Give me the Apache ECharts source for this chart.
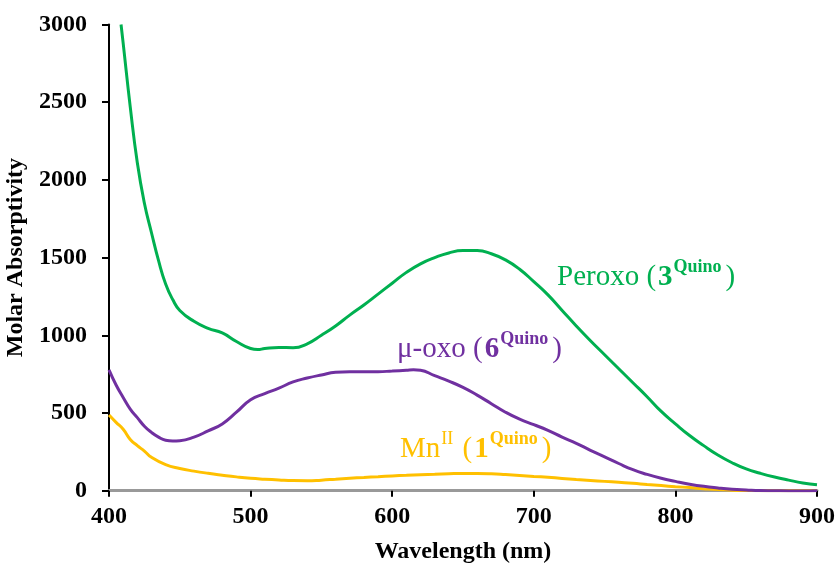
<!DOCTYPE html>
<html>
<head>
<meta charset="utf-8">
<script src="https://cdn.jsdelivr.net/npm/echarts@6/dist/echarts.min.js"></script>
<style>
html,body{margin:0;padding:0;background:#fff;}
#chart{width:839px;height:564px;}
</style>
</head>
<body>
<div id="chart"></div>
<script>
// Wavelength (nm) grids and molar absorptivity values
const peroxoWl = [408.5,410,415,420,425,430,435,440,445,450,460,470,480,490,500,505,510,520,530,540,550,560,570,580,590,600,610,620,630,640,650,660,670,680,690,700,710,720,730,740,750,760,770,780,790,800,810,820,830,840,850,860,870,880,890,900];
const peroxoVal = [3000,2880,2470,2110,1850,1660,1480,1330,1230,1160,1090,1045,1015,960,915,908,915,922,920,945,1000,1060,1130,1195,1265,1335,1405,1460,1500,1530,1545,1545,1525,1485,1425,1345,1260,1160,1060,965,875,785,695,605,510,430,355,290,230,180,140,112,88,68,50,38];

const muoxoWl = [400,405,410,415,420,425,430,435,440,445,450,460,470,480,490,500,510,520,530,540,550,560,570,580,590,600,610,615,620,630,640,650,660,670,680,690,700,710,720,730,740,750,760,770,780,790,800,810,820,830,840,850,860,870,880,890,900];
const muoxoVal = [777,680,600,525,470,415,375,345,325,320,322,345,385,430,505,585,625,660,700,725,745,762,766,766,766,770,775,778,775,740,705,665,615,560,505,460,425,388,345,305,260,218,175,135,105,80,60,42,28,18,10,5,1,0,-2,-2,0];

const mnWl = [400,405,410,415,420,425,430,440,450,460,470,480,490,500,510,520,530,540,550,560,570,580,590,600,610,620,630,640,650,660,670,680,690,700,710,720,730,740,750,760,770,780,790,800,810,820,830,840,850,860,870,880,890,900];
const mnVal = [487,440,395,330,290,255,215,168,143,126,112,100,89,80,74,69,65,64,68,74,80,85,90,95,99,103,106,109,111,111,109,104,98,92,86,79,72,66,60,54,48,40,33,26,20,13,7,3,1,0,0,0,0,0];

const xTicks = {min:400, max:900, interval:100};
const yTicks = {min:0, max:3000, interval:500};

const GREEN = '#00B050', PURPLE = '#7030A0', YELLOW = '#FFC000';
const SERIF = '"Liberation Serif","Times New Roman",serif';

function pairs(xs, ys){ return xs.map((x,i)=>[x, ys[i]]); }

function richFor(color){
  return {
    n:{fontFamily:SERIF, fontSize:29, color:color, verticalAlign:'bottom', lineHeight:34},
    b:{fontFamily:SERIF, fontSize:29, fontWeight:'bold', color:color, verticalAlign:'bottom', lineHeight:34, padding:[0,0,0,2]},
    s:{fontFamily:SERIF, fontSize:18, fontWeight:'bold', color:color, verticalAlign:'top', lineHeight:34, padding:[0,4,0,1]},
    r:{fontFamily:SERIF, fontSize:18, color:color, verticalAlign:'top', lineHeight:34, padding:[0,2,0,1]}
  };
}

function annot(coord, text, color){
  return {
    symbol:'circle', symbolSize:0,
    data:[{coord:coord}],
    label:{show:true, position:'right', distance:0, formatter:text, rich:richFor(color)},
    silent:true
  };
}

const chart = echarts.init(document.getElementById('chart'), null, {renderer:'canvas'});
chart.setOption({
  animation:false,
  backgroundColor:'#ffffff',
  grid:{left:109, right:22, top:24.5, bottom:73.3, containLabel:false, outerBoundsMode:'none'},
  xAxis:{
    type:'value', min:xTicks.min, max:xTicks.max, interval:xTicks.interval,
    name:'Wavelength (nm)', nameLocation:'middle', nameGap:49,
    nameTextStyle:{fontFamily:SERIF, fontSize:24, fontWeight:'bold', color:'#000'},
    axisLine:{show:true, onZero:false, lineStyle:{color:'#999999', width:3}},
    axisTick:{show:true, inside:false, length:6, lineStyle:{color:'#000', width:2}},
    axisLabel:{fontFamily:SERIF, fontSize:24, fontWeight:'bold', color:'#000', margin:14,
               formatter:function(v){return String(v);}},
    splitLine:{show:false}
  },
  yAxis:{
    type:'value', min:yTicks.min, max:yTicks.max, interval:yTicks.interval,
    name:'Molar Absorptivity', nameLocation:'middle', nameGap:75, nameRotate:90,
    nameTextStyle:{fontFamily:SERIF, fontSize:24, fontWeight:'bold', color:'#000'},
    axisLine:{show:true, lineStyle:{color:'#000', width:2}},
    axisTick:{show:true, inside:false, length:7, lineStyle:{color:'#000', width:2}},
    axisLabel:{fontFamily:SERIF, fontSize:24, fontWeight:'bold', color:'#000', margin:22,
               formatter:function(v){return String(v);}},
    splitLine:{show:false}
  },
  series:[
    {name:'MnII (1Quino)', type:'line', data:pairs(mnWl, mnVal), showSymbol:false, smooth:true,
     lineStyle:{color:YELLOW, width:3}, itemStyle:{color:YELLOW}, z:3,
     markPoint: annot([605.5, 281], '{n|Mn}{r|II}{n| (}{b|1}{s|Quino}{n|)}', YELLOW)},
    {name:'μ-oxo (6Quino)', type:'line', data:pairs(muoxoWl, muoxoVal), showSymbol:false, smooth:true,
     lineStyle:{color:PURPLE, width:3}, itemStyle:{color:PURPLE}, z:4,
     markPoint: annot([603.4, 925], '{n|μ-oxo (}{b|6}{s|Quino}{n|)}', PURPLE)},
    {name:'Peroxo (3Quino)', type:'line', data:pairs(peroxoWl, peroxoVal), showSymbol:false, smooth:true,
     lineStyle:{color:GREEN, width:3}, itemStyle:{color:GREEN}, z:5,
     markPoint: annot([716.4, 1389], '{n|Peroxo (}{b|3}{s|Quino}{n|)}', GREEN)}
  ]
});
</script>
</body>
</html>
